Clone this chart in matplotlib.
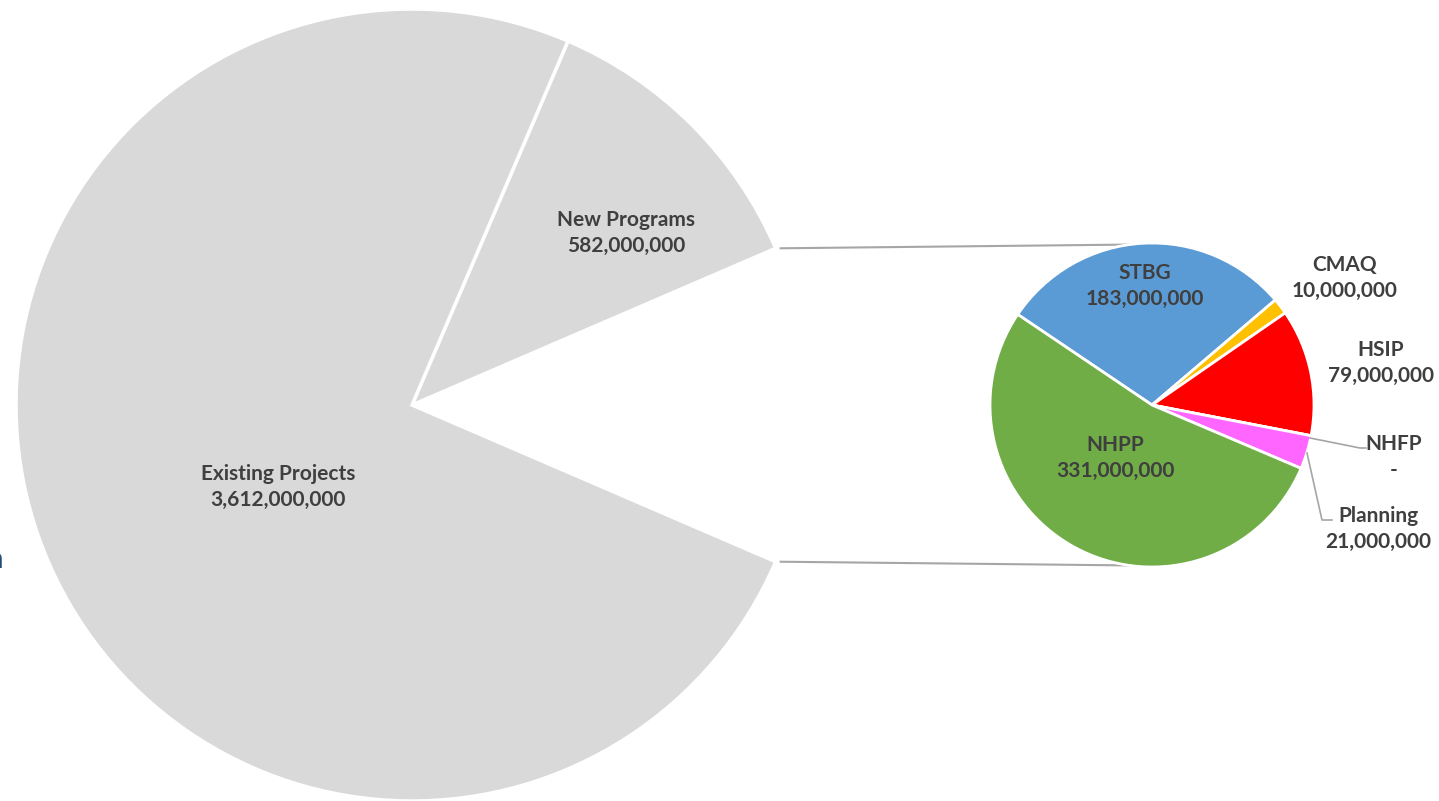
import numpy as np
import matplotlib.pyplot as plt

# --- data -------------------------------------------------------------
main_labels = ['New Programs', 'Existing Projects']
main_values = [582_000_000, 3_612_000_000]

sub_labels = ['STBG', 'CMAQ', 'HSIP', 'NHFP', 'Planning', 'NHPP']
sub_values = [183_000_000, 10_000_000, 79_000_000, 0, 21_000_000, 331_000_000]
sub_colors = ['#5b9bd5', '#ffc000', '#ff0000', '#70ad47', '#ff66ff', '#70ad47']

# --- layout (pixel coordinates, y measured upward) ---------------------
W, H = 1439, 801
main_c, main_r = (412, H - 405), 396
sub_c, sub_r = (1152, H - 405), 162
sub_start = 146

main_label_pos = [(626, H - 233), (278, H - 487)]
sub_label_pos = [(1145, H - 286), (1345, H - 278), (1381, H - 363),
                 (1394, H - 457), (1378, H - 529), (1115, H - 458)]

TXT = '#3f3f3f'
FS = 15
plt.rcParams['font.family'] = ['Lato', 'DejaVu Sans']

fig = plt.figure(figsize=(W / 100, H / 100), dpi=100)
ax = fig.add_axes([0, 0, 1, 1])

other = sum(sub_values)
total = other + sum(main_values)
half = other / total * 180

# main pie: the first (empty) wedge is the "other" slice exploded into the small pie
wedges, _ = ax.pie([other] + main_values, colors=['none', '#d9d9d9', '#d9d9d9'],
                   startangle=-half, counterclock=True, center=main_c, radius=main_r,
                   wedgeprops=dict(edgecolor='white', linewidth=2.5))
wedges[0].set_visible(False)

ax.pie(sub_values, colors=sub_colors, startangle=sub_start, counterclock=False,
       center=sub_c, radius=sub_r,
       wedgeprops=dict(edgecolor='white', linewidth=2))

ax.set_xlim(0, W)
ax.set_ylim(0, H)
ax.set_aspect('equal')
ax.axis('off')

# connector lines
for sgn in (1, -1):
    a = np.deg2rad(sgn * half)
    x0 = main_c[0] + main_r * np.cos(a)
    y0 = main_c[1] + main_r * np.sin(a)
    b = np.deg2rad(sgn * 98)
    x1 = sub_c[0] + sub_r * np.cos(b)
    y1 = sub_c[1] + sub_r * np.sin(b)
    ax.plot([x0 + 5, x1], [y0, y1], color='#a6a6a6', lw=1.5, zorder=0)

def fmt(v):
    return f'{v:,.0f}' if v else '-'

for lab, v, (x, y) in zip(main_labels, main_values, main_label_pos):
    ax.text(x, y, f'{lab}\n{fmt(v)}', ha='center', va='center', fontsize=FS,
            fontweight='bold', color=TXT, linespacing=1.4)

for lab, v, (x, y) in zip(sub_labels, sub_values, sub_label_pos):
    ax.text(x, y, f'{lab}\n{fmt(v)}', ha='center', va='center', fontsize=FS,
            fontweight='bold', color=TXT, linespacing=1.4)

# leader lines for NHFP and Planning
ax.plot([1310, 1360, 1366], [H - 438, H - 448, H - 448], color='#a6a6a6', lw=1.2)
ax.plot([1307, 1322, 1332], [H - 453, H - 520, H - 520], color='#a6a6a6', lw=1.2)

# clipped text fragment at the left edge (as in the source screenshot)
fig.text(-0.0085, (H - 560) / H, 'n', fontsize=20, color='#1f4e79', va='center')

fig.savefig('out.png', dpi=100)
